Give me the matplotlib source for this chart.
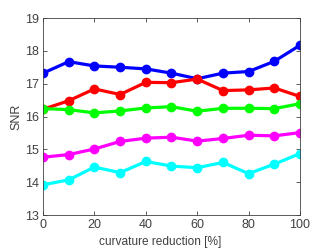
import matplotlib
matplotlib.use("Agg")
import matplotlib.pyplot as plt

x = [0, 10, 20, 30, 40, 50, 60, 70, 80, 90, 100]
blue = [17.32, 17.67, 17.54, 17.50, 17.45, 17.32, 17.15, 17.32, 17.37, 17.68, 18.17]
red = [16.22, 16.48, 16.84, 16.67, 17.04, 17.03, 17.14, 16.79, 16.81, 16.87, 16.61]
green = [16.24, 16.21, 16.11, 16.17, 16.26, 16.30, 16.16, 16.25, 16.25, 16.24, 16.39]
magenta = [14.76, 14.84, 15.01, 15.24, 15.34, 15.37, 15.25, 15.33, 15.43, 15.41, 15.51]
cyan = [13.92, 14.07, 14.46, 14.29, 14.63, 14.49, 14.44, 14.60, 14.26, 14.55, 14.87]

series = [(blue, '#0000ff'), (red, '#ff0000'), (green, '#00ff00'),
          (magenta, '#ff00ff'), (cyan, '#00ffff')]

plt.rcParams['font.family'] = ['Liberation Sans', 'DejaVu Sans']
fig = plt.figure(figsize=(3.32, 2.49), dpi=100)
ax = fig.add_axes([43/332, 1 - 215/249, (300-43)/332, (215-18)/249])
for y, c in series:
    ax.plot(x, y, color=c, lw=2.3, marker='o', ms=6, mec=c, mfc=c)

ax.set_xlim(0, 100)
ax.set_ylim(13, 19)
ax.set_xticks([0, 20, 40, 60, 80, 100])
ax.set_yticks([13, 14, 15, 16, 17, 18, 19])
ax.tick_params(direction='in', length=3, width=0.6, colors='#404040',
               labelsize=9, top=True, right=True, pad=3)
for s in ax.spines.values():
    s.set_color('#404040')
    s.set_linewidth(0.6)
ax.set_xlabel('curvature reduction [%]', fontsize=8.6, color='#404040')
ax.set_ylabel('SNR', fontsize=9, color='#404040')
ax.xaxis.set_label_coords(0.457, -0.105)
ax.yaxis.set_label_coords(-0.082, 0.5)
fig.savefig('out.png', dpi=100)
